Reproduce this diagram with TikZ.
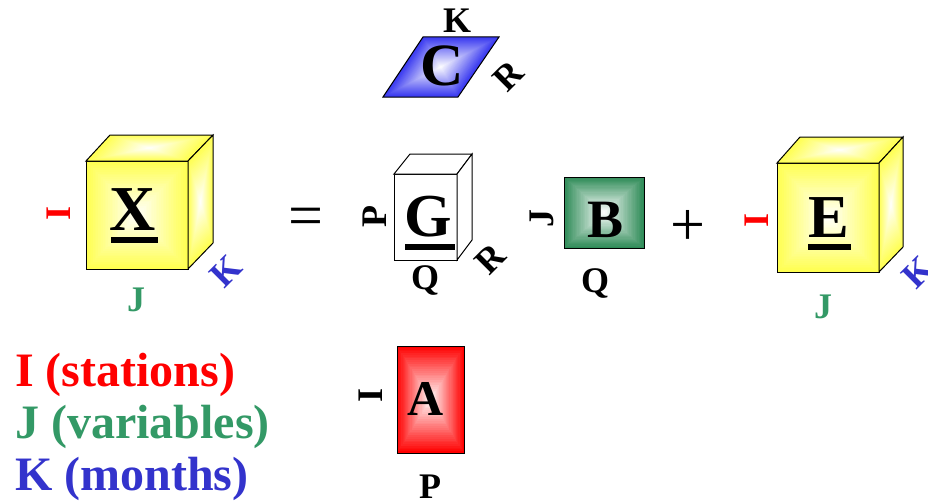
\documentclass[tikz,border=0pt]{standalone}
\usepackage{fontspec}
\setmainfont{Liberation Serif}
\usetikzlibrary{calc}
\definecolor{cred}{RGB}{255,0,0}
\definecolor{cgreen}{RGB}{51,153,102}
\definecolor{cblue}{RGB}{51,51,204}
\definecolor{fyellow}{RGB}{255,255,80}
\definecolor{fgreen}{RGB}{46,139,87}
\definecolor{fblue}{RGB}{55,55,240}
\definecolor{fred}{RGB}{255,0,0}
\newcommand\gradquad[5]{%
  \coordinate (gqc) at ($0.25*(#2)+0.25*(#3)+0.25*(#4)+0.25*(#5)$);
  \foreach \gi in {0,...,29}{%
    \pgfmathtruncatemacro\gp{100-\gi*100/30}%
    \pgfmathsetmacro\gs{1-\gi/30}%
    \fill[#1!\gp!white] ($(gqc)!\gs!(#2)$) -- ($(gqc)!\gs!(#3)$) -- ($(gqc)!\gs!(#4)$) -- ($(gqc)!\gs!(#5)$) -- cycle;
  }%
  \draw[edge] (#2) -- (#3) -- (#4) -- (#5) -- cycle;
}
\tikzset{
  edge/.style={draw=black, line width=1pt, line join=miter},
  big/.style={font=\fontsize{#1}{#1}\selectfont\bfseries, inner sep=0pt, anchor=base},
  lab/.style={font=\fontsize{36}{36}\selectfont\bfseries, inner sep=0pt},
  leg/.style={font=\fontsize{48}{52}\selectfont\bfseries, inner sep=0pt, anchor=base west},
  op/.style={font=\fontsize{62}{62}\selectfont, inner sep=0pt},
  ubar/.style={fill=black}
}
\begin{document}
\begin{tikzpicture}[x=1pt,y=-1pt]
\useasboundingbox (0,0) rectangle (928,503);
% ---- X cube
\gradquad{fyellow}{86,161}{188,161}{188,269}{86,269}
\gradquad{fyellow}{86,161}{110,135}{213,135}{188,161}
\gradquad{fyellow}{188,161}{213,135}{213,243}{188,269}
\node[big=64] (X) at (133,230) {X};
\fill[ubar] (111,237) rectangle (158,243);
\node[lab, text=cred, rotate=90] (Xi) at (59,213) {I};
\node[lab, text=cgreen] (Xj) at (136,300) {J};
\node[lab, text=cblue, rotate=45] (Xk) at (226,271) {K};
% ---- equals
\node[op] (eq) at (306,222) {=};
% ---- C parallelogram
\gradquad{fblue}{383,97}{423,37}{499,37}{458,97}
\node[big=60] (C) at (442,85) {C};
\node[lab] (Ck) at (457,21) {K};
\node[lab, rotate=45] (Cr) at (508,76) {R};
% ---- G cuboid
\draw[edge, fill=white] (394,174) -- (457,174) -- (457,260) -- (394,260) -- cycle;
\draw[edge, fill=white] (394,174) -- (410,154) -- (472,154) -- (457,174) -- cycle;
\draw[edge, fill=white] (457,174) -- (472,154) -- (472,240) -- (457,260) -- cycle;
\node[big=61] (G) at (428,236) {G};
\fill[ubar] (405,244) rectangle (455,250);
\node[lab, rotate=90] (Gp) at (375,217) {P};
\node[lab] (Gq) at (425,280) {Q};
\node[lab, rotate=45] (Gr) at (490,259) {R};
% ---- B square
\gradquad{fgreen}{564,177}{644,177}{644,248}{564,248}
\node[big=54] (B) at (605,237) {B};
\node[lab, rotate=90] (Bj) at (542,218) {J};
\node[lab] (Bq) at (595,283) {Q};
% ---- plus
\node[op] (plus) at (688,228) {+};
% ---- E cube
\gradquad{fyellow}{777,163}{879,163}{879,272}{777,272}
\gradquad{fyellow}{777,163}{800,137}{903,137}{879,163}
\gradquad{fyellow}{879,163}{903,137}{903,247}{879,272}
\node[big=61] (E) at (829,237) {E};
\fill[ubar] (808,244) rectangle (851,250);
\node[lab, text=cred, rotate=90] (Ei) at (757,220) {I};
\node[lab, text=cgreen] (Ej) at (823,307) {J};
\node[lab, text=cblue, rotate=45] (Ek) at (918,272) {K};
% ---- A box
\gradquad{fred}{397,346}{464,346}{464,453}{397,453}
\node[big=50] (A) at (426,415) {A};
\node[lab, rotate=90] (Ai) at (371,395) {I};
\node[lab] (Ap) at (430,487) {P};
% ---- legend
\node[leg, text=cred] (L1) at (15,386) {I (stations)};
\node[leg, text=cgreen] (L2) at (15,438) {J (variables)};
\node[leg, text=cblue] (L3) at (15,490) {K (months)};
\end{tikzpicture}
\end{document}
